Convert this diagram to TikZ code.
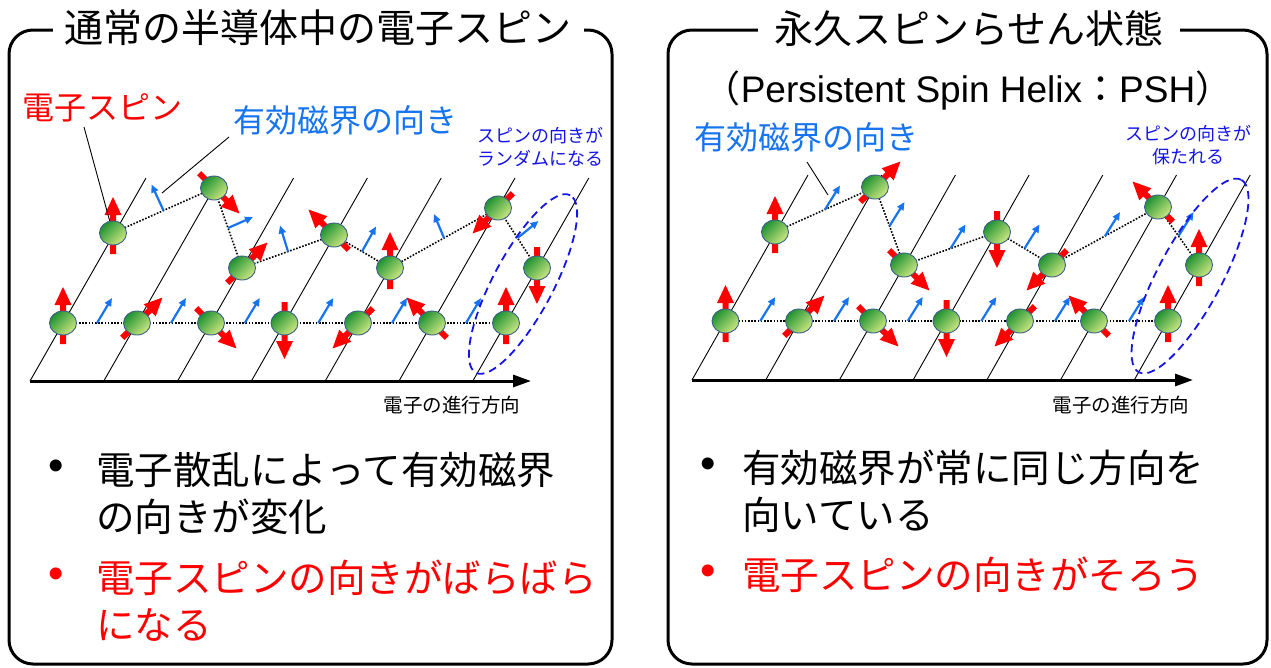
\documentclass[tikz,border=0pt]{standalone}
\usepackage{fontspec}
\setmainfont{Liberation Sans}
\newfontfamily\jp{Noto Sans CJK JP}
\usetikzlibrary{arrows.meta,shapes.geometric,calc}
\pgfdeclarelayer{back}
\pgfsetlayers{back,main}

\definecolor{spinred}{RGB}{255,0,0}
\definecolor{fieldblue}{RGB}{22,116,240}
\definecolor{noteblue}{RGB}{20,20,230}
\definecolor{balledge}{RGB}{60,95,135}
\definecolor{balldark}{RGB}{30,145,50}
\definecolor{balllight}{RGB}{205,232,130}

\tikzset{
  panel/.style={draw=black, line width=3pt, rounded corners=24pt},
  heading/.style={fill=white, inner xsep=12pt, inner ysep=2pt, font=\jp\fontsize{39}{44}\selectfont},
  subhead/.style={inner sep=0pt, font=\fontsize{37}{42}\selectfont},
  lab/.style={inner sep=0pt, font=\jp\fontsize{32}{36}\selectfont},
  note/.style={inner sep=0pt, align=center, text=noteblue, font=\jp\fontsize{18}{23.5}\selectfont},
  axislab/.style={inner sep=0pt, font=\jp\fontsize{19.5}{22}\selectfont},
  body/.style={inner sep=0pt, anchor=west, font=\jp\fontsize{38.5}{44}\selectfont},
  bullet/.style={inner sep=0pt, font=\fontsize{44}{48}\selectfont},
  ball/.style={ellipse, minimum width=27pt, minimum height=24pt, inner sep=0pt,
    draw=balledge, line width=0.9pt, top color=balldark, bottom color=balllight,
    shading angle=45},
  rail/.style={line width=0.9pt},
  track/.style={line width=1.6pt, dash pattern=on 1.6pt off 1.6pt},
  field/.style={fieldblue, line width=2.2pt, -{Triangle[length=8pt,width=7pt]}},
  motion/.style={line width=3pt, -{Triangle[length=18pt,width=12pt]}},
  leader/.style={line width=0.9pt},
  ring/.style={draw=noteblue, line width=1.8pt, dash pattern=on 8pt off 5pt,
    ellipse, inner sep=0pt},
  spin/.pic={\fill[spinred] (-21,-3) -- (18,-3) -- (18,-8.5) -- (36,0)
    -- (18,8.5) -- (18,3) -- (-21,3) -- cycle;}
}

\begin{document}
\begin{tikzpicture}[x=1pt,y=-1pt]
\useasboundingbox (0,0) rectangle (1271,667);

% ---------------- frames and headings ----------------
\draw[panel] (9,30) rectangle (612,664);
\draw[panel] (668,30) rectangle (1267,664);
\node[heading] (lhead) at (318,28) {通常の半導体中の電子スピン};
\node[heading, inner xsep=16pt] (rhead) at (969,29) {永久スピンらせん状態};
\node[subhead] (rsub) at (968,91) {{\jp （}Persistent Spin Helix{\jp ：}PSH{\jp ）}};

% ---------------- left panel: scattered electrons ----------------
\node[ball] (L1) at (63,323) {};
\node[ball] (L2) at (137,323) {};
\node[ball] (L3) at (211,323) {};
\node[ball] (L4) at (284.5,323) {};
\node[ball] (L5) at (358,323) {};
\node[ball] (L6) at (432,323) {};
\node[ball] (L7) at (506,323) {};
\node[ball] (U1) at (113,233) {};
\node[ball] (U2) at (214,188) {};
\node[ball] (U3) at (242,268) {};
\node[ball] (U4) at (334,235) {};
\node[ball] (U5) at (390,268) {};
\node[ball] (U6) at (498,208) {};
\node[ball] (U7) at (537,268) {};

\coordinate (Lax0) at (30,381);
\coordinate (Lax1) at (531,381);
\coordinate (lspinfoot) at (84,127);
\coordinate (lfieldfoot) at (229,137);
\coordinate (lfieldtip) at (162,193);

\begin{pgfonlayer}{back}
  \foreach \i in {0,...,6} \draw[rail] ({30+73.8*\i},381) -- ++(116,-203);
  \draw[track] (L1.center) -- (L2.center) -- (L3.center) -- (L4.center)
    -- (L5.center) -- (L6.center) -- (L7.center);
  \draw[track] (U1.center) -- (U2.center) -- (U3.center) -- (U4.center)
    -- (U5.center) -- (U6.center) -- (U7.center);
  \foreach \a/\b in {L1/L2,L2/L3,L3/L4,L4/L5,L5/L6,L6/L7}
    \draw[field] ($(\a)!0.5!(\b)+(-3,0)$) -- ++(15,-25);
  \draw[field] ($(U1)!0.5!(U2)$) -- ++(-12,-26);
  \draw[field] ($(U2)!0.5!(U3)$) -- ++(25,-11);
  \draw[field] ($(U3)!0.5!(U4)$) -- ++(-8,-26);
  \draw[field] ($(U4)!0.5!(U5)$) -- ++(14,-25);
  \draw[field] ($(U5)!0.5!(U6)$) -- ++(-10,-24);
  \draw[field] ($(U6)!0.5!(U7)$) -- ++(21,-17);
  \foreach \n/\r in {L1/90,L2/45,L3/-45,L4/-90,L5/225,L6/135,L7/90,
                     U1/90,U2/-45,U3/45,U4/135,U5/90,U6/225,U7/-90}
    \pic[rotate=\r] at (\n) {spin};
\end{pgfonlayer}

\draw[motion] (Lax0) -- (Lax1);
\draw[leader] (lspinfoot) -- (U1);
\draw[leader] (lfieldfoot) -- (lfieldtip);
\node[ring, minimum width=201pt, minimum height=60pt, rotate=62] (Lring) at (523,284) {};

\node[lab, text=spinred] (lspinlab) at (102,108) {電子スピン};
\node[lab, text=fieldblue] (lfieldlab) at (345,120) {有効磁界の向き};
\node[note] (lnote) at (540,147) {スピンの向きが\\ランダムになる};
\node[axislab] (laxislab) at (452,405) {電子の進行方向};

\node[bullet] (lb1) at (56,470) {•};
\node[body] (lt1a) at (96,470) {電子散乱によって有効磁界};
\node[body] (lt1b) at (96,517) {の向きが変化};
\node[bullet, text=spinred] (lb2) at (56,578) {•};
\node[body, text=spinred] (lt2a) at (96,578) {電子スピンの向きがばらばら};
\node[body, text=spinred] (lt2b) at (96,625) {になる};

% ---------------- right panel: persistent spin helix ----------------
\node[ball] (M1) at (725.5,321) {};
\node[ball] (M2) at (799,321) {};
\node[ball] (M3) at (873,321) {};
\node[ball] (M4) at (946.5,321) {};
\node[ball] (M5) at (1020,321) {};
\node[ball] (M6) at (1094,321) {};
\node[ball] (M7) at (1168,321) {};
\node[ball] (R1) at (775,232) {};
\node[ball] (R2) at (875,187) {};
\node[ball] (R3) at (904,265) {};
\node[ball] (R4) at (997,232) {};
\node[ball] (R5) at (1052,265) {};
\node[ball] (R6) at (1158,207) {};
\node[ball] (R7) at (1199,265) {};

\coordinate (Rax0) at (692,380);
\coordinate (Rax1) at (1193,380);
\coordinate (rfieldfoot) at (807,162);
\coordinate (rfieldtip) at (828,195);

\begin{pgfonlayer}{back}
  \foreach \i in {0,...,6} \draw[rail] ({692+73.7*\i},380) -- ++(116,-205);
  \draw[track] (M1.center) -- (M2.center) -- (M3.center) -- (M4.center)
    -- (M5.center) -- (M6.center) -- (M7.center);
  \draw[track] (R1.center) -- (R2.center) -- (R3.center) -- (R4.center)
    -- (R5.center) -- (R6.center) -- (R7.center);
  \foreach \a/\b in {M1/M2,M2/M3,M3/M4,M4/M5,M5/M6,M6/M7}
    \draw[field] ($(\a)!0.5!(\b)+(-2,0)$) -- ++(15,-24);
  \foreach \a/\b in {R1/R2,R2/R3,R3/R4,R4/R5,R5/R6,R6/R7}
    \draw[field] ($(\a)!0.5!(\b)$) -- ++(15,-24);
  \foreach \n/\r in {M1/90,M2/45,M3/-45,M4/-90,M5/225,M6/135,M7/90,
                     R1/90,R2/45,R3/-45,R4/-90,R5/225,R6/135,R7/90}
    \pic[rotate=\r] at (\n) {spin};
\end{pgfonlayer}

\draw[motion] (Rax0) -- (Rax1);
\draw[leader] (rfieldfoot) -- (rfieldtip);
\node[ring, minimum width=218pt, minimum height=64pt, rotate=62] (Rring) at (1190,276) {};

\node[lab, text=fieldblue] (rfieldlab) at (806,137) {有効磁界の向き};
\node[note] (rnote) at (1188,145) {スピンの向きが\\保たれる};
\node[axislab] (raxislab) at (1121,405) {電子の進行方向};

\node[bullet] (rb1) at (708,468) {•};
\node[body] (rt1a) at (742,468) {有効磁界が常に同じ方向を};
\node[body] (rt1b) at (742,515) {向いている};
\node[bullet, text=spinred] (rb2) at (708,575) {•};
\node[body, text=spinred] (rt2a) at (742,575) {電子スピンの向きがそろう};
\end{tikzpicture}
\end{document}
